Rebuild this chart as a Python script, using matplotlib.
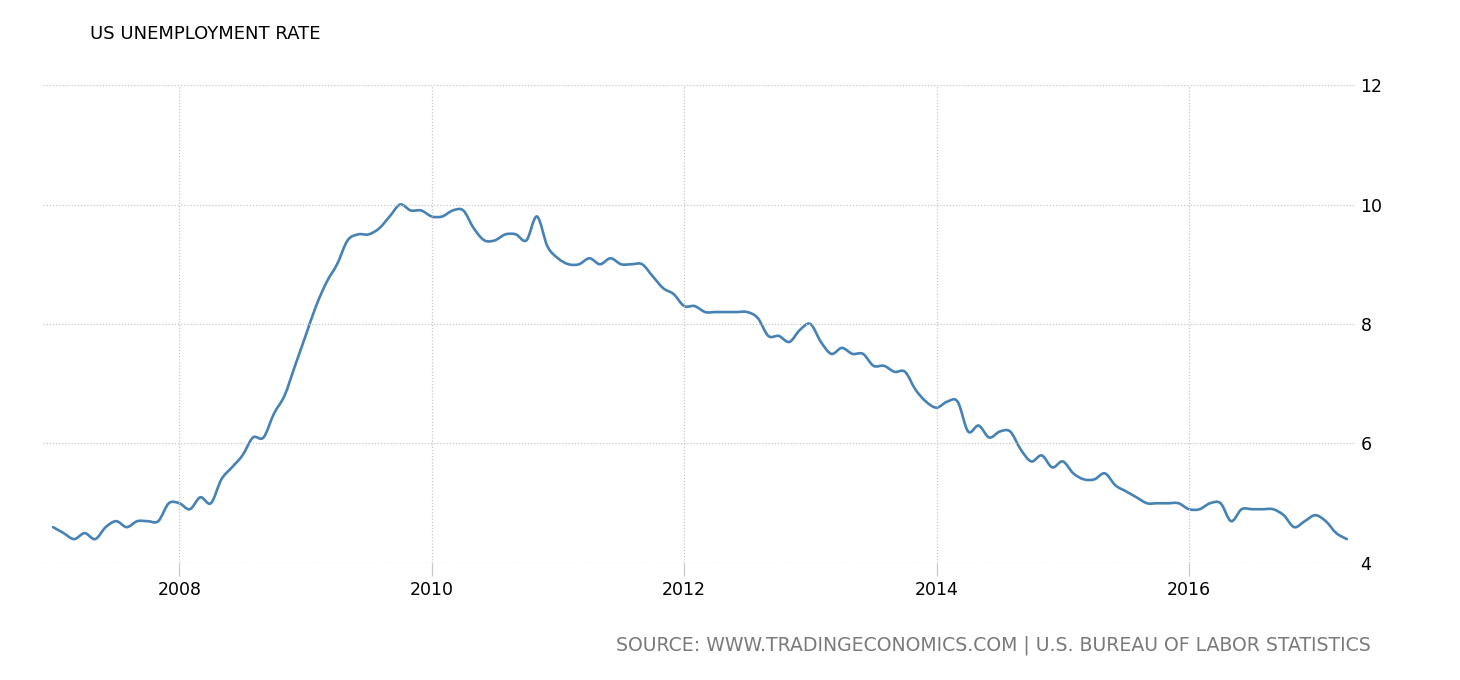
import matplotlib
matplotlib.use("Agg")
import matplotlib.pyplot as plt
from matplotlib.path import Path
from matplotlib.patches import PathPatch
import numpy as np

# Monthly US unemployment rate, Jan 2007 .. Apr 2017
start_year = 2007
rates = [
    4.6, 4.5, 4.4, 4.5, 4.4, 4.6, 4.7, 4.6, 4.7, 4.7, 4.7, 5.0,   # 2007
    5.0, 4.9, 5.1, 5.0, 5.4, 5.6, 5.8, 6.1, 6.1, 6.5, 6.8, 7.3,   # 2008
    7.8, 8.3, 8.7, 9.0, 9.4, 9.5, 9.5, 9.6, 9.8, 10.0, 9.9, 9.9,  # 2009
    9.8, 9.8, 9.9, 9.9, 9.6, 9.4, 9.4, 9.5, 9.5, 9.4, 9.8, 9.3,   # 2010
    9.1, 9.0, 9.0, 9.1, 9.0, 9.1, 9.0, 9.0, 9.0, 8.8, 8.6, 8.5,   # 2011
    8.3, 8.3, 8.2, 8.2, 8.2, 8.2, 8.2, 8.1, 7.8, 7.8, 7.7, 7.9,   # 2012
    8.0, 7.7, 7.5, 7.6, 7.5, 7.5, 7.3, 7.3, 7.2, 7.2, 6.9, 6.7,   # 2013
    6.6, 6.7, 6.7, 6.2, 6.3, 6.1, 6.2, 6.2, 5.9, 5.7, 5.8, 5.6,   # 2014
    5.7, 5.5, 5.4, 5.4, 5.5, 5.3, 5.2, 5.1, 5.0, 5.0, 5.0, 5.0,   # 2015
    4.9, 4.9, 5.0, 5.0, 4.7, 4.9, 4.9, 4.9, 4.9, 4.8, 4.6, 4.7,   # 2016
    4.8, 4.7, 4.5, 4.4,                                           # 2017
]
x_ticks = [2008, 2010, 2012, 2014, 2016]
y_ticks = [4, 6, 8, 10, 12]
title = "US UNEMPLOYMENT RATE"
source = "SOURCE: WWW.TRADINGECONOMICS.COM | U.S. BUREAU OF LABOR STATISTICS"

x = np.array([start_year + i / 12 for i in range(len(rates))])
y = np.array(rates, dtype=float)

fig = plt.figure(figsize=(14.6, 6.8), dpi=100)
ax = fig.add_axes([43 / 1460, 1 - 563 / 680, (1355 - 43) / 1460, (563 - 85) / 680])

# Smooth curve through the data points (Catmull-Rom as cubic Bezier in data space)
verts = [(x[0], y[0])]
codes = [Path.MOVETO]
n = len(x)
t = 1 / 6
for i in range(n - 1):
    p0 = (x[max(i - 1, 0)], y[max(i - 1, 0)])
    p1 = (x[i], y[i])
    p2 = (x[i + 1], y[i + 1])
    p3 = (x[min(i + 2, n - 1)], y[min(i + 2, n - 1)])
    c1 = (p1[0] + (p2[0] - p0[0]) * t, p1[1] + (p2[1] - p0[1]) * t)
    c2 = (p2[0] - (p3[0] - p1[0]) * t, p2[1] - (p3[1] - p1[1]) * t)
    verts += [c1, c2, p2]
    codes += [Path.CURVE4] * 3
ax.add_patch(PathPatch(Path(verts, codes), fill=False, edgecolor="#4682b4",
                       lw=1.9, capstyle="round", joinstyle="round"))

ax.set_xlim(2006.92, 2017.315)
ax.set_ylim(4, 12)
ax.set_xticks(x_ticks)
ax.set_xticklabels([str(v) for v in x_ticks])
ax.set_yticks(y_ticks)
ax.set_yticklabels([str(v) for v in y_ticks])
ax.yaxis.tick_right()
for s in ax.spines.values():
    s.set_visible(False)
grid_kw = dict(color="#c8c8c8", linestyle=(0, (1, 1.5)), linewidth=0.9)
ax.grid(True, **grid_kw)
ax.tick_params(axis="x", length=9, width=0.9, color="#c8c8c8", pad=4,
               labelsize=12.5, labelcolor="black")
ax.tick_params(axis="y", length=0, pad=4, labelsize=12.5, labelcolor="black")

fig.text(90 / 1460, 1 - 34 / 680, title, fontsize=13, color="black",
         ha="left", va="center")
fig.text(1371 / 1460, 1 - 645 / 680, source, fontsize=13.6, color="#7a7a7a",
         ha="right", va="center")

fig.savefig("out.png", dpi=100)
